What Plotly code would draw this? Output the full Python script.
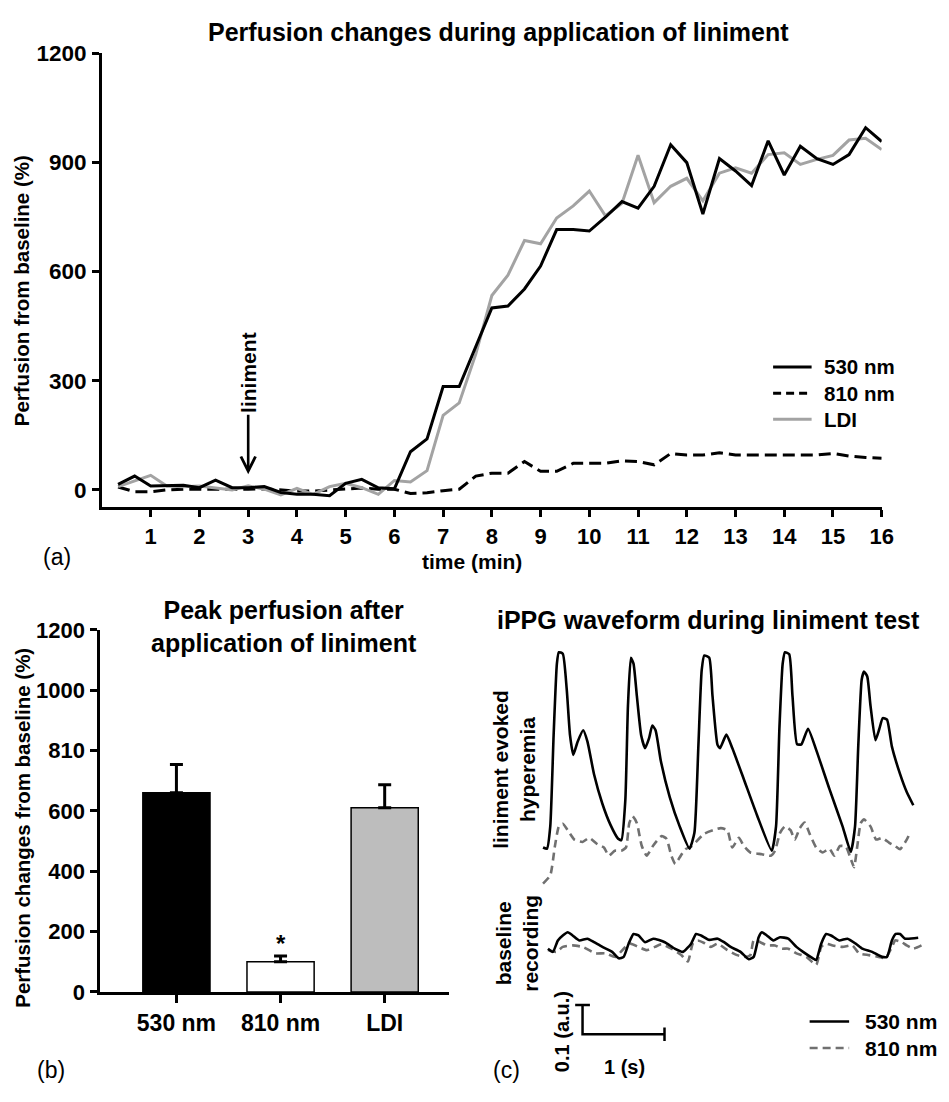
import plotly.graph_objects as go

W, H = 949, 1102
FONT = "Liberation Sans, Arial, Helvetica, sans-serif"


def px(x):
    return x / W


def py(y):
    return 1 - y / H


# ---------------- (a) perfusion time course ----------------
time_min = [0.33, 0.67, 1.00, 1.33, 1.67, 2.00, 2.33, 2.67, 3.00, 3.33, 3.67, 4.00,
            4.33, 4.67, 5.00, 5.33, 5.67, 6.00, 6.33, 6.67, 7.00, 7.33, 7.67, 8.00,
            8.33, 8.67, 9.00, 9.33, 9.67, 10.00, 10.33, 10.67, 11.00, 11.33, 11.67, 12.00,
            12.33, 12.67, 13.00, 13.33, 13.67, 14.00, 14.33, 14.67, 15.00, 15.33, 15.67, 16.00]
perf_530 = [15, 38, 11, 11, 13, 6, 27, 6, 6, 9, -7, -12, -12, -16, 18, 29, 6, 3, 105, 140,
            284, 284, 391, 500, 505, 552, 615, 715, 715, 711, 749, 792, 774, 834, 948, 899,
            758, 910, 876, 836, 959, 865, 944, 910, 894, 921, 995, 957]
perf_810 = [8, -5, -5, 0, 2, 2, 0, 0, 2, 3, 0, -3, -3, 0, 3, 5, 2, 2, -10, -8,
            -2, 2, 38, 46, 46, 78, 51, 51, 73, 73, 73, 80, 78, 69, 100, 96,
            96, 102, 96, 96, 96, 96, 96, 96, 100, 93, 89, 87]
perf_ldi = [9, 25, 40, 11, 9, 11, 6, 0, 11, 2, -14, 4, -12, 9, 18, 6, -12, 26, 22, 53,
            205, 239, 373, 534, 590, 685, 676, 747, 780, 821, 753, 787, 919, 789, 834, 856,
            794, 870, 885, 870, 921, 926, 894, 908, 919, 961, 966, 935]
a_xticks = list(range(1, 17))
a_yticks = [0, 300, 600, 900, 1200]
liniment_time = 3
series_names = ["530 nm", "810 nm", "LDI"]

# ---------------- (b) peak perfusion bars ----------------
bar_labels = ["530 nm", "810 nm", "LDI"]
peak_mean = [660, 100, 611]
peak_sem = [94, 19, 76]
b_yticks = [0, 200, 400, 600, 800, 1000, 1200]
b_yticktext = ["0", "200", "400", "600", "810", "1000", "1200"]

# ---------------- (c) iPPG waveforms (time in s, amplitude in a.u.) ----------------
hyp530_t = [0.0, 0.048, 0.088, 0.129, 0.169, 0.193, 0.241, 0.289, 0.329, 0.369,
            0.422, 0.49, 0.542, 0.622, 0.723, 0.823, 0.916, 0.956, 1.004, 1.036,
            1.072, 1.104, 1.145, 1.197, 1.245, 1.293, 1.333, 1.373, 1.438, 1.546,
            1.667, 1.787, 1.847, 1.896, 1.936, 1.968, 2.028, 2.068, 2.129, 2.16,
            2.237, 2.309, 2.45, 2.61, 2.791, 2.843, 2.884, 2.924, 2.952, 3.004,
            3.044, 3.1, 3.153, 3.233, 3.333, 3.494, 3.655, 3.755, 3.807, 3.847,
            3.888, 3.916, 3.956, 3.996, 4.056, 4.104, 4.145, 4.197, 4.257, 4.357,
            4.438, 4.518]
hyp530_v = [0.637, 0.633, 0.709, 1.02, 1.264, 1.303, 1.298, 1.176, 1.02, 0.953,
            0.998, 1.037, 0.998, 0.887, 0.787, 0.714, 0.667, 0.662, 0.798, 1.12,
            1.284, 1.264, 1.153, 1.02, 0.976, 1.009, 1.053, 1.037, 0.931, 0.809,
            0.709, 0.633, 0.687, 0.987, 1.242, 1.292, 1.284, 1.153, 0.987, 0.976,
            1.022, 0.976, 0.87, 0.748, 0.626, 0.709, 1.042, 1.264, 1.303, 1.296,
            1.153, 0.989, 0.989, 1.042, 0.97, 0.837, 0.709, 0.622, 0.709, 0.987,
            1.209, 1.237, 1.22, 1.12, 1.003, 1.042, 1.078, 1.073, 0.981, 0.887,
            0.826, 0.781]
hyp810_t = [0.0, 0.088, 0.145, 0.193, 0.241, 0.301, 0.382, 0.482, 0.562, 0.663,
            0.743, 0.803, 0.876, 0.956, 1.012, 1.052, 1.092, 1.145, 1.205, 1.265,
            1.345, 1.446, 1.506, 1.566, 1.614, 1.667, 1.735, 1.807, 1.968, 2.169,
            2.249, 2.309, 2.39, 2.45, 2.53, 2.671, 2.779, 2.831, 2.892, 2.952,
            3.02, 3.072, 3.133, 3.193, 3.253, 3.333, 3.414, 3.494, 3.554, 3.623,
            3.695, 3.755, 3.795, 3.835, 3.876, 3.916, 3.996, 4.064, 4.137, 4.225,
            4.297, 4.357, 4.438, 4.478]
hyp810_v = [0.514, 0.542, 0.642, 0.709, 0.718, 0.696, 0.664, 0.656, 0.67, 0.648,
            0.637, 0.609, 0.626, 0.626, 0.637, 0.72, 0.744, 0.72, 0.642, 0.609,
            0.644, 0.676, 0.667, 0.609, 0.581, 0.603, 0.631, 0.64, 0.684, 0.703,
            0.696, 0.637, 0.67, 0.642, 0.62, 0.614, 0.609, 0.626, 0.687, 0.709,
            0.696, 0.664, 0.703, 0.722, 0.684, 0.637, 0.62, 0.633, 0.609, 0.642,
            0.64, 0.598, 0.57, 0.642, 0.72, 0.733, 0.709, 0.664, 0.67, 0.653,
            0.642, 0.631, 0.664, 0.687]
base530_t = [0.06, 0.12, 0.181, 0.241, 0.301, 0.361, 0.442, 0.542, 0.622, 0.723,
             0.843, 0.924, 0.984, 1.044, 1.104, 1.165, 1.245, 1.345, 1.486, 1.606,
             1.707, 1.807, 1.867, 1.928, 2.028, 2.129, 2.209, 2.289, 2.41, 2.51,
             2.57, 2.631, 2.671, 2.731, 2.811, 2.892, 2.992, 3.092, 3.173, 3.293,
             3.333, 3.394, 3.454, 3.514, 3.614, 3.715, 3.815, 3.896, 4.016, 4.137,
             4.197, 4.257, 4.305, 4.357, 4.418, 4.578]
base530_v = [0.292, 0.281, 0.32, 0.337, 0.348, 0.337, 0.32, 0.326, 0.314, 0.298,
             0.281, 0.259, 0.264, 0.309, 0.342, 0.337, 0.314, 0.326, 0.314, 0.292,
             0.281, 0.309, 0.342, 0.337, 0.322, 0.326, 0.314, 0.298, 0.281, 0.256,
             0.264, 0.331, 0.348, 0.337, 0.32, 0.331, 0.326, 0.298, 0.281, 0.259,
             0.253, 0.309, 0.342, 0.337, 0.32, 0.326, 0.309, 0.292, 0.281, 0.264,
             0.264, 0.32, 0.342, 0.342, 0.326, 0.329]
base810_t = [0.06, 0.161, 0.241, 0.361, 0.482, 0.562, 0.643, 0.763, 0.884, 1.004,
             1.064, 1.165, 1.265, 1.365, 1.446, 1.566, 1.687, 1.767, 1.827, 1.888,
             1.968, 2.048, 2.129, 2.249, 2.369, 2.47, 2.53, 2.57, 2.651, 2.731,
             2.831, 2.912, 2.992, 3.092, 3.213, 3.333, 3.394, 3.454, 3.534, 3.655,
             3.775, 3.855, 3.976, 4.096, 4.177, 4.257, 4.297, 4.378, 4.438, 4.518,
             4.618]
base810_v = [0.287, 0.281, 0.298, 0.303, 0.298, 0.287, 0.276, 0.276, 0.264, 0.298,
             0.309, 0.298, 0.287, 0.298, 0.307, 0.292, 0.27, 0.248, 0.309, 0.32,
             0.311, 0.298, 0.309, 0.287, 0.27, 0.264, 0.27, 0.32, 0.314, 0.303,
             0.303, 0.292, 0.292, 0.276, 0.264, 0.237, 0.298, 0.309, 0.303, 0.298,
             0.303, 0.276, 0.27, 0.264, 0.259, 0.298, 0.32, 0.314, 0.303, 0.292,
             0.303]
scale_time_s = 1.0
scale_amp_au = 0.1

# ---------------- styling ----------------
C530 = "black"
CLDI = "#a3a3a3"
C810W = "#707070"
bar_colors = ["black", "white", "#bdbdbd"]


def bfont(size, weight="bold"):
    return dict(family=FONT, size=size, color="black", weight=weight)


fig = go.Figure()

# (a) lines
fig.add_trace(go.Scatter(x=time_min, y=perf_810, mode="lines", name=series_names[1],
                         line=dict(color="black", width=3, dash="12px,6px"),
                         xaxis="x", yaxis="y"))
fig.add_trace(go.Scatter(x=time_min, y=perf_ldi, mode="lines", name=series_names[2],
                         line=dict(color=CLDI, width=3), xaxis="x", yaxis="y"))
fig.add_trace(go.Scatter(x=time_min, y=perf_530, mode="lines", name=series_names[0],
                         line=dict(color=C530, width=3), xaxis="x", yaxis="y"))

# (b) bars
fig.add_trace(go.Bar(x=bar_labels, y=peak_mean, width=0.645,
                     marker=dict(color=bar_colors, line=dict(color="black", width=1.5)),
                     error_y=dict(type="data", array=peak_sem, arrayminus=[0] * len(peak_sem),
                                  symmetric=False, thickness=3, width=6.5, color="black"),
                     xaxis="x2", yaxis="y2"))

# (c) waveforms
wline = 2.6
fig.add_trace(go.Scatter(x=hyp810_t, y=hyp810_v, mode="lines",
                         line=dict(color=C810W, width=wline, dash="8px,5px", shape="spline", smoothing=0.5),
                         xaxis="x3", yaxis="y3"))
fig.add_trace(go.Scatter(x=hyp530_t, y=hyp530_v, mode="lines",
                         line=dict(color="black", width=wline, shape="spline", smoothing=0.5),
                         xaxis="x3", yaxis="y3"))
fig.add_trace(go.Scatter(x=base810_t, y=base810_v, mode="lines",
                         line=dict(color=C810W, width=wline, dash="8px,5px", shape="spline", smoothing=0.5),
                         xaxis="x3", yaxis="y3"))
fig.add_trace(go.Scatter(x=base530_t, y=base530_v, mode="lines",
                         line=dict(color="black", width=wline, shape="spline", smoothing=0.5),
                         xaxis="x3", yaxis="y3"))

# scale bar (c)
sx0, sy0 = 0.482, 0.0
cap_x = 0.09
cap_y = 0.023
fig.add_trace(go.Scatter(
    x=[sx0 - cap_x, sx0 + cap_x, None, sx0, sx0, sx0 + scale_time_s, None,
       sx0 + scale_time_s, sx0 + scale_time_s],
    y=[sy0 + scale_amp_au, sy0 + scale_amp_au, None, sy0 + scale_amp_au, sy0, sy0, None,
       sy0 - cap_y, sy0 + cap_y],
    mode="lines", line=dict(color="black", width=2.5), xaxis="x3", yaxis="y3"))

axis_common = dict(showline=True, linewidth=3, linecolor="black", ticks="outside",
                   tickwidth=3, tickcolor="black", showgrid=False, zeroline=False)

fig.update_layout(
    width=W, height=H, margin=dict(l=0, r=0, t=0, b=0),
    paper_bgcolor="white", plot_bgcolor="white", showlegend=False,
    xaxis=dict(domain=[px(103.3), px(893)], range=[0, 16], tickvals=a_xticks,
               ticklen=7, tickfont=bfont(22), anchor="y", **axis_common),
    yaxis=dict(domain=[py(507), py(42)], range=[-48.3, 1200], tickvals=a_yticks,
               ticklen=7, tickfont=bfont(22.5), anchor="x", ticklabelstandoff=1, **axis_common),
    xaxis2=dict(domain=[px(101.7), px(455)], range=[-0.73, 2.62], type="category",
                ticklen=8, tickfont=bfont(23), anchor="y2", **axis_common),
    yaxis2=dict(domain=[py(1002.7), py(632.3)], range=[0, 1200], tickvals=b_yticks,
                ticktext=b_yticktext, ticklen=7, tickfont=bfont(22), anchor="x2",
                ticklabelstandoff=1, **axis_common),
    xaxis3=dict(domain=[px(540), px(940)], range=[-0.1205, 4.6988], visible=False, anchor="y3"),
    yaxis3=dict(domain=[py(1060), py(640)], range=[-0.0467, 1.3533], visible=False, anchor="x3"),
)

ann = []


def label(x, y, text, size, weight="bold", angle=0, xanchor="center", align="center"):
    ann.append(dict(x=px(x), y=py(y), xref="paper", yref="paper", text=text, showarrow=False,
                    font=bfont(size, weight), textangle=angle, xanchor=xanchor, yanchor="middle",
                    align=align, borderpad=0))


# (a) texts
label(505, 20, "Perfusion changes during application of liniment", 25)
label(22, 285, "Perfusion from baseline (%)", 20.5, angle=-90)
label(478, 562, "time (min)", 21)
label(58, 558, "(a)", 23, weight="normal")
ann.append(dict(x=liniment_time, y=43, xref="x", yref="y", ax=liniment_time, ay=322,
                axref="x", ayref="y", text="liniment", textangle=-90, font=bfont(21),
                showarrow=True, arrowhead=5, arrowsize=1.1, arrowwidth=2.6, arrowcolor="black"))

# (a) legend: one multi-line text block, line samples as shapes
leg_font = 20.5
leg_step = leg_font * 1.3
leg_a_rows = [390 - leg_step, 390, 390 + leg_step]
leg_a_styles = [dict(color="black", width=3), dict(color="black", width=3, dash="8px,5px"),
                dict(color=CLDI, width=3)]
shapes = []
for yrow, st in zip(leg_a_rows, leg_a_styles):
    shapes.append(dict(type="line", xref="paper", yref="paper", x0=px(783), x1=px(822),
                       y0=py(yrow), y1=py(yrow), line=st))
label(834, 390, "<br>".join(series_names), leg_font, xanchor="left", align="left")

# (b) texts
label(288, 629, "Peak perfusion after<br>application of liniment", 25)
label(22, 835, "Perfusion changes from baseline (%)", 20.5, angle=-90)
label(52, 1083, "(b)", 23, weight="normal")
ann.append(dict(x=bar_labels[1], y=peak_mean[1] + peak_sem[1] + 40, xref="x2", yref="y2",
                text="*", showarrow=False, font=bfont(24), yanchor="middle"))

# (c) texts
label(718, 622, "iPPG waveform during liniment test", 25)
label(521, 775, "liniment evoked<br>hyperemia", 21, angle=-90)
label(524, 953, "baseline<br>recording", 21, angle=-90)
label(570, 1043, "0.1 (a.u.)", 20, angle=-90)
label(633, 1080, "1 (s)", 20)
label(513, 1083, "(c)", 23, weight="normal")
leg_c_rows = [1033, 1060]
leg_c_styles = [dict(color="black", width=2.6), dict(color=C810W, width=2.6, dash="8px,5px")]
for yrow, st in zip(leg_c_rows, leg_c_styles):
    shapes.append(dict(type="line", xref="paper", yref="paper", x0=px(820), x1=px(860),
                       y0=py(yrow), y1=py(yrow), line=st))
label(875, 1046.5, "<br>".join(series_names[:2]), 21, xanchor="left", align="left")

fig.update_layout(annotations=ann, shapes=shapes)
fig.write_html("out.html")
